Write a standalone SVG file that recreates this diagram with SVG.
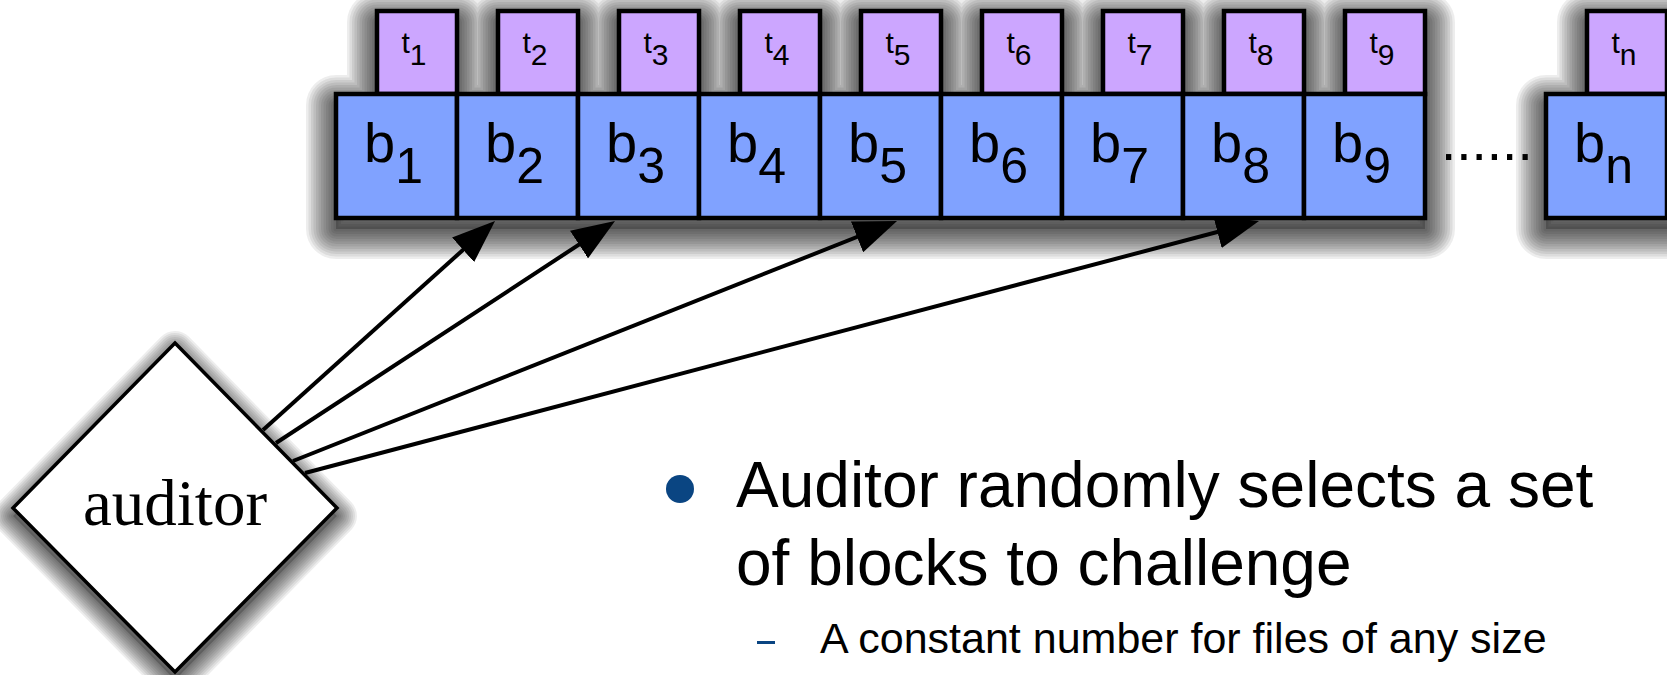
<svg xmlns="http://www.w3.org/2000/svg" xmlns:xlink="http://www.w3.org/1999/xlink" width="1667" height="675" viewBox="0 0 1667 675">
<style>
.blk{fill:#80a2ff;stroke:#000;stroke-width:4.5}
.tag{fill:#cca6ff;stroke:#000;stroke-width:4.5}
.bl{font-family:"Liberation Sans",Arial,sans-serif;font-size:56px;fill:#000;text-anchor:middle}
.bs{font-size:50px}
.tl{font-family:"Liberation Sans",Arial,sans-serif;font-size:30px;fill:#000;text-anchor:middle}
.conn{stroke:#000;stroke-width:4;fill:none;marker-end:url(#ah)}
.txt{font-family:"Liberation Sans",Arial,sans-serif;fill:#000}
.sf{fill:#000;fill-opacity:0.2;stroke:none}
.sl{fill:none;stroke:#000;stroke-opacity:0.07;stroke-linejoin:round}
</style>
<defs>
<path id="silRow" d="M336,94 H1425 V218 H336 Z M377,11 h80 v83 h-80 Z M498,11 h80 v83 h-80 Z M619,11 h80 v83 h-80 Z M740,11 h80 v83 h-80 Z M861,11 h80 v83 h-80 Z M982,11 h80 v83 h-80 Z M1103,11 h80 v83 h-80 Z M1224,11 h80 v83 h-80 Z M1345,11 h80 v83 h-80 Z M1546,94 H1690 V218 H1546 Z M1587,11 H1690 V94 H1587 Z"/>
<polygon id="silDia" points="175,343 337,508 175,672 13,508"/>
<marker id="ah" markerUnits="userSpaceOnUse" viewBox="0 0 43 33" refX="35" refY="16.5" markerWidth="43" markerHeight="33" orient="auto">
<path d="M0,0 L43,16.5 L0,33 Z" fill="#000"/>
</marker>
</defs>
<rect width="1667" height="675" fill="#fff"/>

<g id="shadows">
<g transform="translate(0,11)">
<use xlink:href="#silRow" class="sf"/>
<use xlink:href="#silRow" class="sl" stroke-width="5"/>
<use xlink:href="#silRow" class="sl" stroke-width="10"/>
<use xlink:href="#silRow" class="sl" stroke-width="15"/>
<use xlink:href="#silRow" class="sl" stroke-width="20"/>
<use xlink:href="#silRow" class="sl" stroke-width="25"/>
<use xlink:href="#silRow" class="sl" stroke-width="30"/>
<use xlink:href="#silRow" class="sl" stroke-width="35"/>
<use xlink:href="#silRow" class="sl" stroke-width="40"/>
<use xlink:href="#silRow" class="sl" stroke-width="45"/>
<use xlink:href="#silRow" class="sl" stroke-width="50"/>
<use xlink:href="#silRow" class="sl" stroke-width="55"/>
<use xlink:href="#silRow" class="sl" stroke-width="60"/>
</g>
<g transform="translate(0,8)">
<use xlink:href="#silDia" class="sf"/>
<use xlink:href="#silDia" class="sl" stroke-width="4"/>
<use xlink:href="#silDia" class="sl" stroke-width="8"/>
<use xlink:href="#silDia" class="sl" stroke-width="12"/>
<use xlink:href="#silDia" class="sl" stroke-width="16"/>
<use xlink:href="#silDia" class="sl" stroke-width="20"/>
<use xlink:href="#silDia" class="sl" stroke-width="24"/>
<use xlink:href="#silDia" class="sl" stroke-width="28"/>
<use xlink:href="#silDia" class="sl" stroke-width="32"/>
<use xlink:href="#silDia" class="sl" stroke-width="36"/>
<use xlink:href="#silDia" class="sl" stroke-width="40"/>
</g>
</g>

<g id="block1"><rect class="tag" x="377" y="11" width="80" height="83"/><rect class="blk" x="336" y="94" width="121" height="124"/>
<text class="tl" x="414" y="53">t<tspan dy="12">1</tspan></text><text class="bl" x="393.5" y="162">b<tspan class="bs" dy="21">1</tspan></text></g>
<g id="block2"><rect class="tag" x="498" y="11" width="80" height="83"/><rect class="blk" x="457" y="94" width="121" height="124"/>
<text class="tl" x="535" y="53">t<tspan dy="12">2</tspan></text><text class="bl" x="514.5" y="162">b<tspan class="bs" dy="21">2</tspan></text></g>
<g id="block3"><rect class="tag" x="619" y="11" width="80" height="83"/><rect class="blk" x="578" y="94" width="121" height="124"/>
<text class="tl" x="656" y="53">t<tspan dy="12">3</tspan></text><text class="bl" x="635.5" y="162">b<tspan class="bs" dy="21">3</tspan></text></g>
<g id="block4"><rect class="tag" x="740" y="11" width="80" height="83"/><rect class="blk" x="699" y="94" width="121" height="124"/>
<text class="tl" x="777" y="53">t<tspan dy="12">4</tspan></text><text class="bl" x="756.5" y="162">b<tspan class="bs" dy="21">4</tspan></text></g>
<g id="block5"><rect class="tag" x="861" y="11" width="80" height="83"/><rect class="blk" x="820" y="94" width="121" height="124"/>
<text class="tl" x="898" y="53">t<tspan dy="12">5</tspan></text><text class="bl" x="877.5" y="162">b<tspan class="bs" dy="21">5</tspan></text></g>
<g id="block6"><rect class="tag" x="982" y="11" width="80" height="83"/><rect class="blk" x="941" y="94" width="121" height="124"/>
<text class="tl" x="1019" y="53">t<tspan dy="12">6</tspan></text><text class="bl" x="998.5" y="162">b<tspan class="bs" dy="21">6</tspan></text></g>
<g id="block7"><rect class="tag" x="1103" y="11" width="80" height="83"/><rect class="blk" x="1062" y="94" width="121" height="124"/>
<text class="tl" x="1140" y="53">t<tspan dy="12">7</tspan></text><text class="bl" x="1119.5" y="162">b<tspan class="bs" dy="21">7</tspan></text></g>
<g id="block8"><rect class="tag" x="1224" y="11" width="80" height="83"/><rect class="blk" x="1183" y="94" width="121" height="124"/>
<text class="tl" x="1261" y="53">t<tspan dy="12">8</tspan></text><text class="bl" x="1240.5" y="162">b<tspan class="bs" dy="21">8</tspan></text></g>
<g id="block9"><rect class="tag" x="1345" y="11" width="80" height="83"/><rect class="blk" x="1304" y="94" width="121" height="124"/>
<text class="tl" x="1382" y="53">t<tspan dy="12">9</tspan></text><text class="bl" x="1361.5" y="162">b<tspan class="bs" dy="21">9</tspan></text></g>
<g id="blockn"><rect class="tag" x="1587" y="11" width="80" height="83"/><rect class="blk" x="1546" y="94" width="121" height="124"/>
<text class="tl" x="1624" y="53">t<tspan dy="12">n</tspan></text><text class="bl" x="1603.5" y="162">b<tspan class="bs" dy="21">n</tspan></text></g>
<text id="ellipsis" class="txt" x="1441" y="160" font-size="55">......</text>

<g id="auditor">
<polygon points="175,343 337,508 175,672 13,508" fill="#fff" stroke="#000" stroke-width="3.5"/>
<text x="175" y="525" font-family="'Liberation Serif','Times New Roman',serif" font-size="65" text-anchor="middle" fill="#000">auditor</text>
</g>

<g id="connectors">
<line class="conn" x1="263" y1="430" x2="489.1" y2="226.4"/>
<line class="conn" x1="276" y1="443" x2="608.3" y2="225.4"/>
<line class="conn" x1="293" y1="461" x2="889.6" y2="224.0"/>
<line class="conn" x1="305" y1="473" x2="1251.3" y2="223.0"/>
</g>

<g id="bullets">
<circle cx="680" cy="489" r="14" fill="#0a4582"/>
<text class="txt" x="736" y="507" font-size="64">Auditor randomly selects a set</text>
<text class="txt" x="736" y="585" font-size="64">of blocks to challenge</text>
<rect x="757" y="641" width="18" height="3" fill="#0a4582"/>
<text class="txt" x="820" y="653" font-size="43">A constant number for files of any size</text>
</g>
</svg>
